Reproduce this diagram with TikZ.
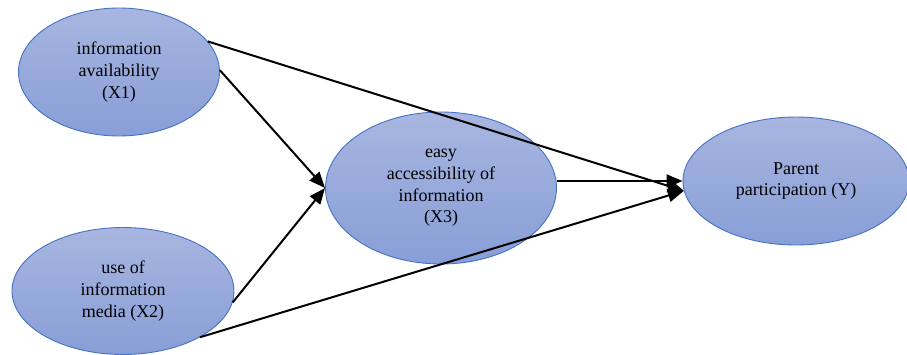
\documentclass[tikz,border=0pt]{standalone}
\usepackage{fontspec}
\setmainfont{Liberation Serif}
\usetikzlibrary{shapes.geometric,arrows.meta}
\definecolor{elltop}{RGB}{168,182,224}
\definecolor{ellbot}{RGB}{136,158,215}
\definecolor{ellborder}{RGB}{68,114,196}
\tikzset{
  var/.style={ellipse, inner sep=0pt, draw=ellborder, line width=0.9pt,
    top color=elltop, bottom color=ellbot, align=center,
    font=\fontsize{18}{21.7}\selectfont, text=black},
  link/.style={line width=2pt, -{Triangle[length=16pt,width=13pt]}},
}
\begin{document}
\begin{tikzpicture}[x=1pt,y=-1pt]
\useasboundingbox (0,0) rectangle (907,354);
\node[var, minimum width=201pt, minimum height=128pt] (X1) at (119,72) {information\\availability\\(X1)};
\node[var, minimum width=222pt, minimum height=127pt] (X2) at (123,291) {use of\\information\\media (X2)};
\node[var, minimum width=231pt, minimum height=152pt] (X3) at (441,188) {easy\\accessibility of\\information\\(X3)};
\node[var, minimum width=226pt, minimum height=128pt] (Y) at (796,181) {Parent\\participation (Y)};
\draw[link] (X1.19) -- (Y.185);
\draw[link] (X1.1) -- (X3.180);
\draw[link] (X2.-6) -- (X3.180);
\draw[link] (X2.-31) -- (Y.185);
\draw[link] (X3.east |- Y.west) -- (Y.west);
\end{tikzpicture}
\end{document}
